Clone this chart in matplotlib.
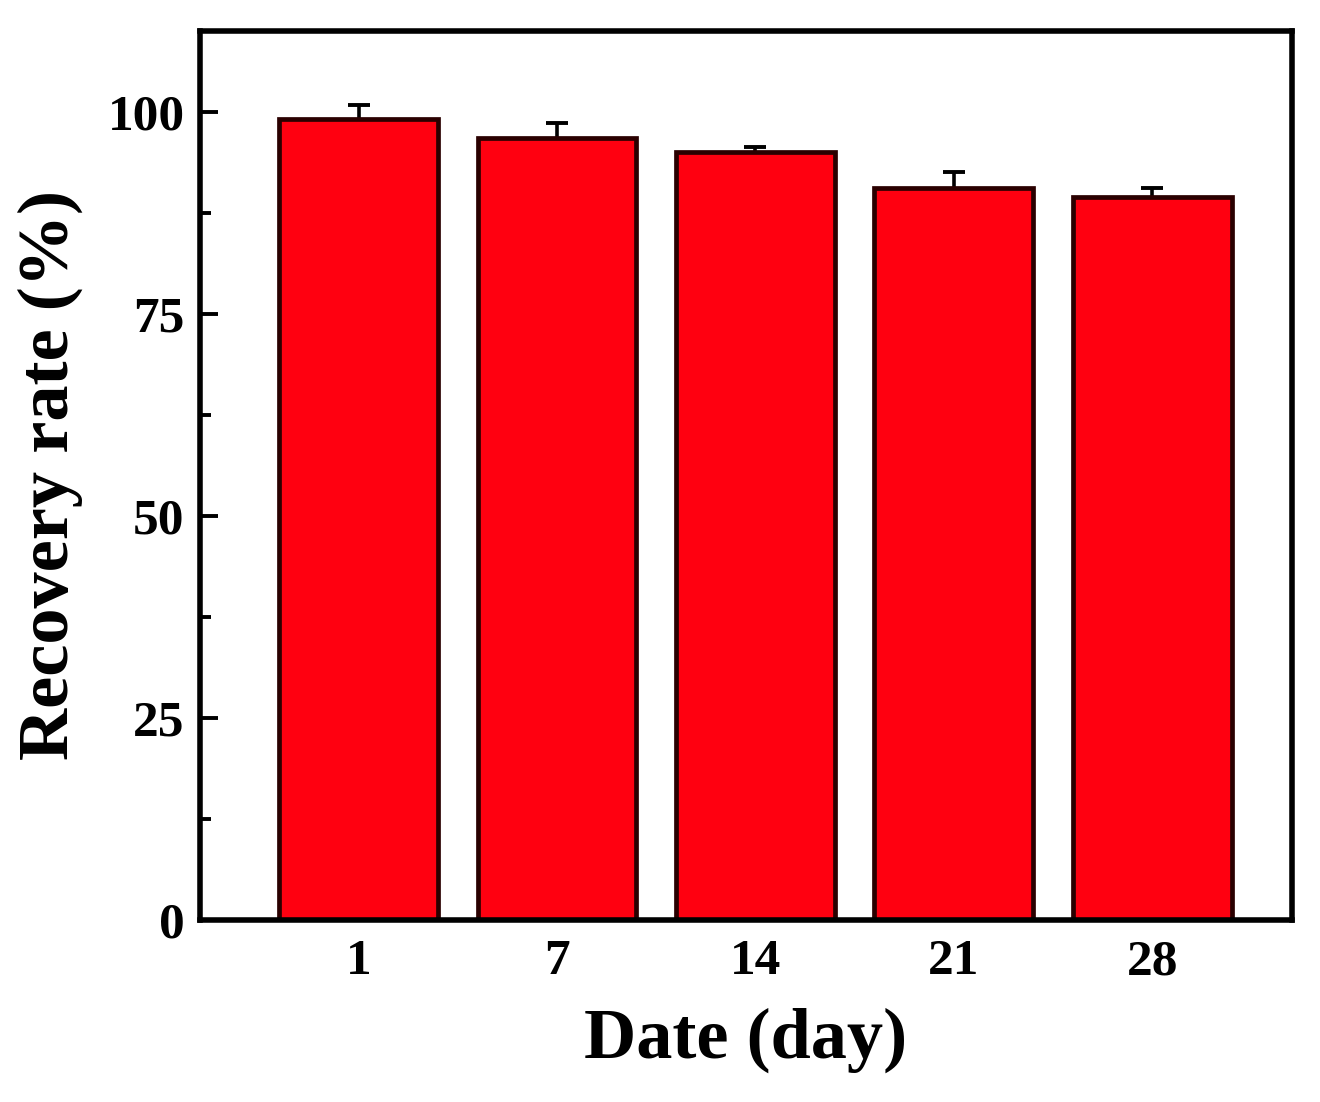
import matplotlib
matplotlib.use("Agg")
import matplotlib.pyplot as plt
from matplotlib.ticker import MultipleLocator
import numpy as np

days = ["1", "7", "14", "21", "28"]
recovery = [99.1, 96.8, 95.0, 90.6, 89.4]
errors = [1.7, 1.8, 0.7, 2.0, 1.2]
y_ticks = [0, 25, 50, 75, 100]

plt.rcParams['font.family'] = ['Liberation Serif', 'DejaVu Serif']
plt.rcParams['font.weight'] = 'bold'

fig = plt.figure(figsize=(13.2, 11.02), dpi=100)
ax = fig.add_axes([0.1515, 0.1652, 0.8273, 0.8067])

x = np.arange(len(days))
ax.errorbar(x, recovery, yerr=errors, fmt='none', ecolor='black',
            elinewidth=2.6, capsize=8, capthick=2.8, zorder=1)
ax.bar(x, recovery, width=0.8, color='#ff0010', edgecolor='#2a0000',
       linewidth=3.4, zorder=2)

ax.set_xlim(-0.8, 4.705)
ax.set_ylim(0, 110)
ax.set_xticks(x)
ax.set_xticklabels(days)
ax.set_yticks(y_ticks)
ax.yaxis.set_minor_locator(MultipleLocator(12.5))

ax.tick_params(axis='x', length=0, pad=14, labelsize=37)
ax.tick_params(axis='y', which='major', direction='in', length=13, width=2.8,
               pad=11, labelsize=37)
ax.tick_params(axis='y', which='minor', direction='in', length=8, width=2.8)
for lab in ax.get_xticklabels() + ax.get_yticklabels():
    lab.set_fontweight('bold')

for s in ax.spines.values():
    s.set_linewidth(4)
    s.set_color('black')

ax.set_xlabel("Date (day)", fontsize=52, fontweight='bold', labelpad=16)
ax.set_ylabel("Recovery rate (%)", fontsize=52, fontweight='bold', labelpad=18)

fig.savefig("out.png", dpi=100)
